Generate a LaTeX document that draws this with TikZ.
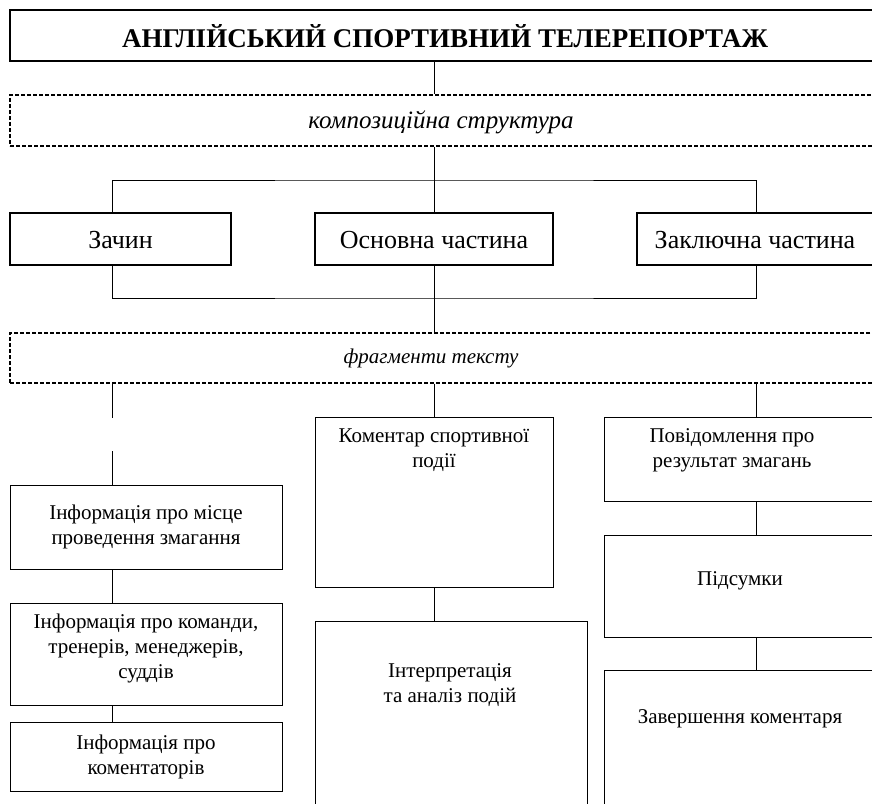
\documentclass[tikz,border=0pt]{standalone}
\usepackage{fontspec}
\setmainfont{Liberation Serif}
\usetikzlibrary{fit}
\begin{document}
\begin{tikzpicture}[x=1pt,y=-1pt,
  thickbox/.style={draw, line width=2pt, inner sep=0pt},
  dbox/.style={draw, line width=1.3pt, dash pattern=on 4pt off 2pt, inner sep=0pt},
  tbox/.style={draw, line width=1pt, inner sep=0pt},
  conn/.style={line width=1pt},
  lbl/.style={font=\fontsize{21}{25}\selectfont, align=center, inner sep=0pt},
  rowlbl/.style={font=\fontsize{26}{30}\selectfont, inner sep=0pt},
  itl/.style={inner sep=0pt}]
\useasboundingbox (0,0) rectangle (872,803);
\clip (0,0) rectangle (872,803);

% top part
\node[thickbox, fit={(10,10) (880,61)}] (title) {};
\node[inner sep=0pt, font=\bfseries\fontsize{27}{30}\selectfont] (titlet) at (445,36) {АНГЛІЙСЬКИЙ СПОРТИВНИЙ ТЕЛЕРЕПОРТАЖ};
\node[dbox, fit={(10,95) (880,146)}] (comp) {};
\node[itl, font=\itshape\fontsize{25}{28}\selectfont] (compt) at (441,122) {композиційна структура};

\node[thickbox, fit={(10,213) (231,265)}] (zach) {};
\node[rowlbl] (zacht) at (120.5,240) {Зачин};
\node[thickbox, fit={(315,213) (553,265)}] (osn) {};
\node[rowlbl] (osnt) at (434,240) {Основна частина};
\node[thickbox, fit={(637,213) (875,265)}] (zakl) {};
\node[rowlbl] (zaklt) at (755,240) {Заключна частина};

\node[dbox, fit={(10,333) (880,383)}] (frag) {};
\node[itl, font=\itshape\fontsize{21}{24}\selectfont] (fragt) at (431,358) {фрагменти тексту};

% left column
\node[tbox, fit={(10,485) (282,569)}] (l1) {};
\node[lbl] (l1t) at (146,527) {Інформація про місце\\проведення змагання};
\node[tbox, fit={(10,603) (282,705)}] (l2) {};
\node[lbl] (l2t) at (146,648) {Інформація про команди,\\тренерів, менеджерів,\\суддів};
\node[tbox, fit={(10,722) (282,791)}] (l3) {};
\node[lbl] (l3t) at (146,757) {Інформація про\\коментаторів};

% middle column
\node[tbox, fit={(315,417) (553,587)}] (m1) {};
\node[lbl] (m1t) at (434,450) {Коментар спортивної\\події};
\node[tbox, fit={(315,621) (587,820)}] (m2) {};
\node[lbl] (m2t) at (450,685) {Інтерпретація\\та аналіз подій};

% right column
\node[tbox, fit={(604,417) (880,501)}] (r1) {};
\node[lbl] (r1t) at (732,450) {Повідомлення про\\результат змагань};
\node[tbox, fit={(604,535) (880,637)}] (r2) {};
\node[lbl] (r2t) at (740,581) {Підсумки};
\node[tbox, fit={(604,670) (880,820)}] (r3) {};
\node[lbl] (r3t) at (740,719) {Завершення коментаря};

% guide coordinates
\coordinate (ax) at (434,0);
\coordinate (xl) at (112,0);
\coordinate (xr) at (756,0);
\coordinate (busT) at (434,180);
\coordinate (busB) at (434,298);
\coordinate (gapA) at (112,418);
\coordinate (gapB) at (112,451);

% connectors
\draw[conn] (title.south -| ax) -- (comp.north -| ax);
\draw[conn] (comp.south -| ax) -- (osn.north -| ax);
\draw[conn] (zach.north -| xl) |- (busT) -| (zakl.north -| xr);
\draw[conn] (zach.south -| xl) |- (busB) -| (zakl.south -| xr);
\draw[conn] (osn.south -| ax) -- (frag.north -| ax);
\draw[conn] (frag.south -| xl) -- (gapA);
\draw[conn] (gapB) -- (l1.north -| xl);
\draw[conn] (l1.south -| xl) -- (l2.north -| xl);
\draw[conn] (l2.south -| xl) -- (l3.north -| xl);
\draw[conn] (frag.south -| ax) -- (m1.north -| ax);
\draw[conn] (m1.south -| ax) -- (m2.north -| ax);
\draw[conn] (frag.south -| xr) -- (r1.north -| xr);
\draw[conn] (r1.south -| xr) -- (r2.north -| xr);
\draw[conn] (r2.south -| xr) -- (r3.north -| xr);
\end{tikzpicture}
\end{document}
